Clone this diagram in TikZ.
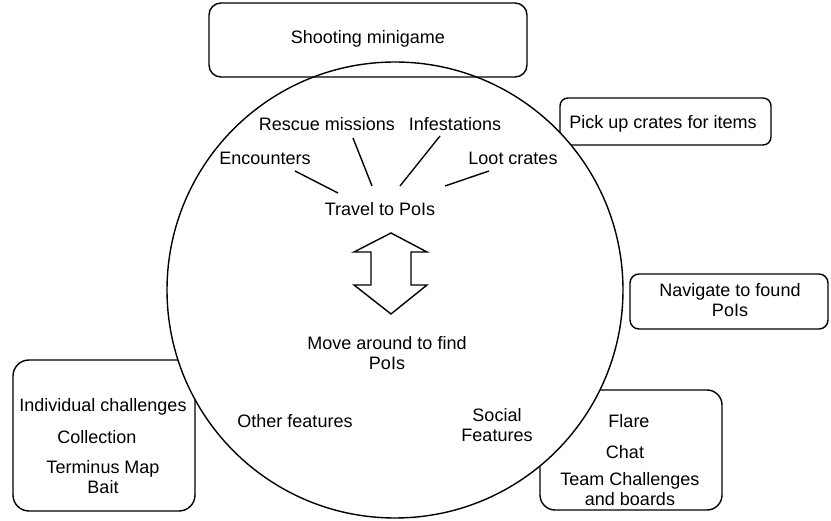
\documentclass[tikz,border=0pt]{standalone}
\usepackage{fontspec}
\setmainfont{Liberation Sans}
\begin{document}
\begin{tikzpicture}[x=1pt,y=-1pt,
  every node/.style={font=\fontsize{18}{20.5}\selectfont, inner sep=0pt, align=center},
  box/.style={draw, line width=1.4pt, rounded corners=#1},
  box/.default=12pt,
  link/.style={line width=1.4pt}]
\useasboundingbox (0,0) rectangle (831,521);

% boxes that sit partly behind the circle
\draw[box=16pt] (13,360) rectangle (195,511);
\draw[box=15pt] (540,390) rectangle (722,510);
\draw[box=8pt] (560,98) rectangle (771,145);
\draw[box=9pt] (630,274) rectangle (828,329);

% the main circle, filled so it covers the boxes behind it
\node[draw, line width=1.4pt, fill=white, circle, minimum size=456pt] (world) at (395,290) {};

% box drawn over the circle
\draw[box=12pt] (209,3) rectangle (527,77);

% box texts
\node (shoot) at (368,39) {Shooting minigame};
\node (crates) at (663,124) {Pick up crates for items};
\node (nav) at (730,300) {Navigate to found\\PoIs};
\node (indiv) at (103,407) {Individual challenges};
\node (coll) at (97,437) {Collection};
\node (term) at (103,477) {Terminus Map\\Bait};
\node (flare) at (629,421) {Flare};
\node (chat) at (625,452) {Chat};
\node (team) at (630,489) {Team Challenges\\and boards};

% texts inside the circle
\node (rescue) at (327,124) {Rescue missions};
\node (infest) at (455,124) {Infestations};
\node (enc) at (265,158) {Encounters};
\node (loot) at (513,158) {Loot crates};
\node (travel) at (380,209) {Travel to PoIs};
\node (move) at (387,353) {Move around to find\\PoIs};
\node (other) at (295,421) {Other features};
\node (social) at (497,425) {Social\\Features};

% spokes towards travel
\coordinate (e1) at (295,171); \coordinate (e2) at (338,193);
\coordinate (r1) at (353,138); \coordinate (r2) at (372,186);
\coordinate (i1) at (440,136); \coordinate (i2) at (400,186);
\coordinate (l1) at (489,171); \coordinate (l2) at (445,186);
\draw[link] (e1) -- (e2);
\draw[link] (r1) -- (r2);
\draw[link] (i1) -- (i2);
\draw[link] (l1) -- (l2);

% hollow double arrow between travel and move
\draw[line width=1.4pt, line join=miter]
  (391,233) -- (427,252) -- (411,252) -- (411,285) -- (427,285) -- (391,314)
  -- (354,285) -- (371,285) -- (371,252) -- (354,252) -- cycle;
\end{tikzpicture}
\end{document}
